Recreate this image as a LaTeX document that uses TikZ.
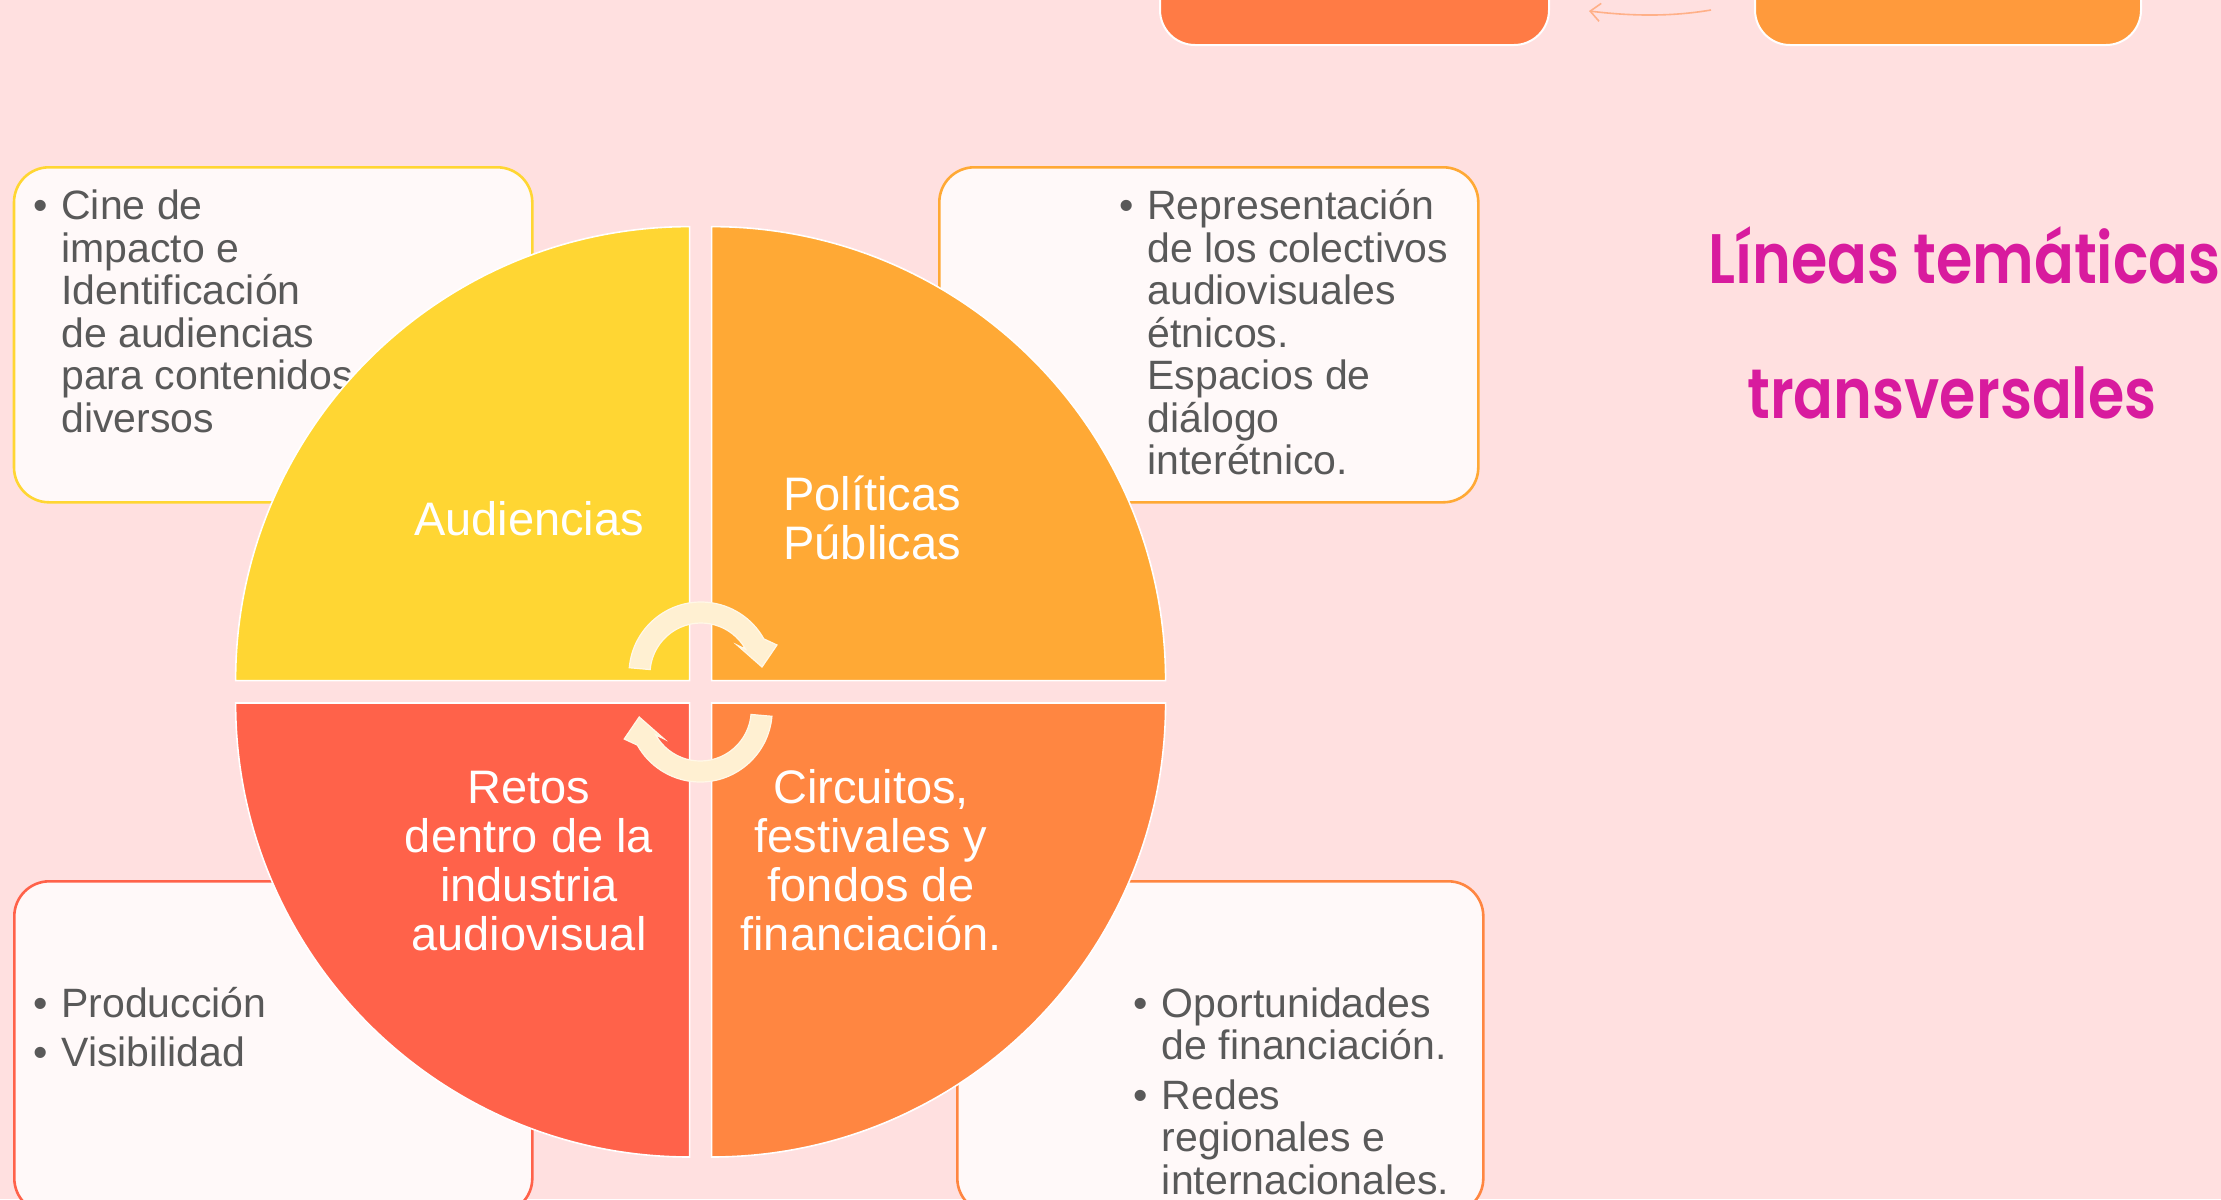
\documentclass[tikz,border=0pt]{standalone}
\usepackage{fontspec}
\usepackage{graphicx}
\setmainfont{Liberation Sans}
\newfontfamily\titlefont{Poppins SemiBold}
\usetikzlibrary{arrows.meta}
\definecolor{bg}{HTML}{FFE0E0}
\definecolor{boxfill}{HTML}{FFF9F9}
\definecolor{qyellow}{HTML}{FFD633}
\definecolor{qorange}{HTML}{FFA935}
\definecolor{qred}{HTML}{FF624A}
\definecolor{qdeep}{HTML}{FF8641}
\definecolor{topA}{HTML}{FF7B45}
\definecolor{topB}{HTML}{FF9A3C}
\definecolor{arrowline}{HTML}{FFB088}
\definecolor{cream}{HTML}{FFF0D2}
\definecolor{bodytext}{HTML}{595959}
\definecolor{titlec}{HTML}{D81B9E}
\newcommand\myLine[1]{\hbox{#1}}
\newcommand\myCLine[1]{\hbox to 0pt{\hss#1\hss}}
\newcommand\myLines[1]{\vtop{\lineskiplimit=-100pt\relax #1}}
\newcommand\myBul{\llap{•\kern7pt}}
\begin{document}
\begin{tikzpicture}[x=0.5pt,y=-0.5pt,
  infobox/.style={draw=#1, fill=boxfill, line width=1.3pt, rounded corners=17.5pt, inner sep=0pt, anchor=north west},
  topshape/.style={fill=#1, draw=white, line width=1pt, rounded corners=17.5pt, inner sep=0pt, anchor=north west},
  quarter/.style={fill=#1, draw=white, line width=0.8pt},
  body/.style={inner sep=0pt, text=bodytext, font=\fontsize{20.5pt}{21.25pt}\selectfont},
  lab/.style={inner sep=0pt, text=white, font=\fontsize{23.5pt}{24.5pt}\selectfont},
  titlestyle/.style={inner sep=0pt, text=titlec, font=\titlefont\fontsize{35pt}{40pt}\selectfont},
  creamarrow/.style={fill=cream, draw=white!50!cream, line width=0.6pt},
  thinarrow/.style={draw=arrowline, line width=0.8pt, -{Straight Barb[length=5pt,width=9pt]}}]
\useasboundingbox (0,0) rectangle (2221,1199);
\fill[bg] (0,0) rectangle (2221,1199);

% top partial shapes
\node[topshape=topA, minimum width=194.5pt, minimum height=72pt] (topL) at (1159,-100) {};
\node[topshape=topB, minimum width=193pt, minimum height=72pt] (topR) at (1754,-100) {};
\coordinate (arrS) at (1711,10);
\coordinate (arrE) at (1589,11);
\draw[thinarrow] (arrS) .. controls (1670,17) and (1630,16) .. (arrE);

% info boxes
\node[infobox=qyellow, minimum width=259.15pt, minimum height=167.5pt] (boxTL) at (12.7,166) {};
\node[infobox=qorange, minimum width=269.5pt, minimum height=167.5pt] (boxTR) at (938,166) {};
\node[infobox=qred, minimum width=259pt, minimum height=166pt] (boxBL) at (13,880) {};
\node[infobox=qdeep, minimum width=263pt, minimum height=166pt] (boxBR) at (956,880) {};

% box texts
\node[body, anchor=base west] (tTL) at (61,219.6) {\myLines{\myLine{\myBul Cine de}\myLine{impacto e}\myLine{Identificación}\myLine{de audiencias}\myLine{para contenidos}\myLine{diversos}}};
\node[body, anchor=base west] (tTR) at (1147,219.6) {\myLines{\myLine{\myBul Representación}\myLine{de los colectivos}\myLine{audiovisuales}\myLine{étnicos.}\myLine{Espacios de}\myLine{diálogo}\myLine{interétnico.}}};
\node[body, anchor=base west] (tBL) at (61,1017) {\myLines{\myLine{\myBul Producción}\vskip3.5pt\myLine{\myBul Visibilidad}}};
\node[body, anchor=base west] (tBR) at (1161.5,1017) {\myLines{\myLine{\myBul Oportunidades}\myLine{de financiación.}\vskip3.5pt\myLine{\myBul Redes}\myLine{regionales e}\myLine{internacionales.}}};

% pie quarters
\filldraw[quarter=qyellow] (689.6,680.6) -- (235.6,680.6) arc[start angle=180,end angle=270,radius=454] -- cycle;
\filldraw[quarter=qorange] (711.6,680.6) -- (711.6,226.6) arc[start angle=270,end angle=360,radius=454] -- cycle;
\filldraw[quarter=qdeep] (711.6,703) -- (1165.6,703) arc[start angle=0,end angle=90,radius=454] -- cycle;
\filldraw[quarter=qred] (689.6,703) -- (689.6,1157) arc[start angle=90,end angle=180,radius=454] -- cycle;

% labels
\node[lab, anchor=base] (lAud) at (529,535) {Audiencias};
\node[lab, anchor=base west] (lPol) at (783,510) {\myLines{\myLine{Políticas}\myLine{Públicas}}};
\node[lab, anchor=base] (lRet) at (529,803) {\myLines{\myCLine{Retos}\myCLine{dentro de la}\myCLine{industria}\myCLine{audiovisual}}};
\node[lab, anchor=base] (lCir) at (871,803) {\myLines{\myCLine{Circuitos,}\myCLine{festivales y}\myCLine{fondos de}\myCLine{financiación.}}};

% cream circular arrows
\begin{scope}[shift={(701,674)}]
\filldraw[creamarrow] (185:72) arc[start angle=185,end angle=330.8,radius=72] -- (76,-29) -- (61,-7) -- (36,-29) -- (330.8:51) arc[start angle=330.8,end angle=185,radius=51] -- cycle;
\end{scope}
\begin{scope}[rotate around={180:(700.6,692)}, shift={(701,674)}]
\filldraw[creamarrow] (185:72) arc[start angle=185,end angle=330.8,radius=72] -- (76,-29) -- (61,-7) -- (36,-29) -- (330.8:51) arc[start angle=330.8,end angle=185,radius=51] -- cycle;
\end{scope}

% title
\node[titlestyle, anchor=base west] (title1) at (1708,283) {\scalebox{0.84}[1]{Líneas temáticas}};
\node[titlestyle, anchor=base west] (title2) at (1747,418) {\scalebox{0.84}[1]{transversales}};
\end{tikzpicture}
\end{document}
